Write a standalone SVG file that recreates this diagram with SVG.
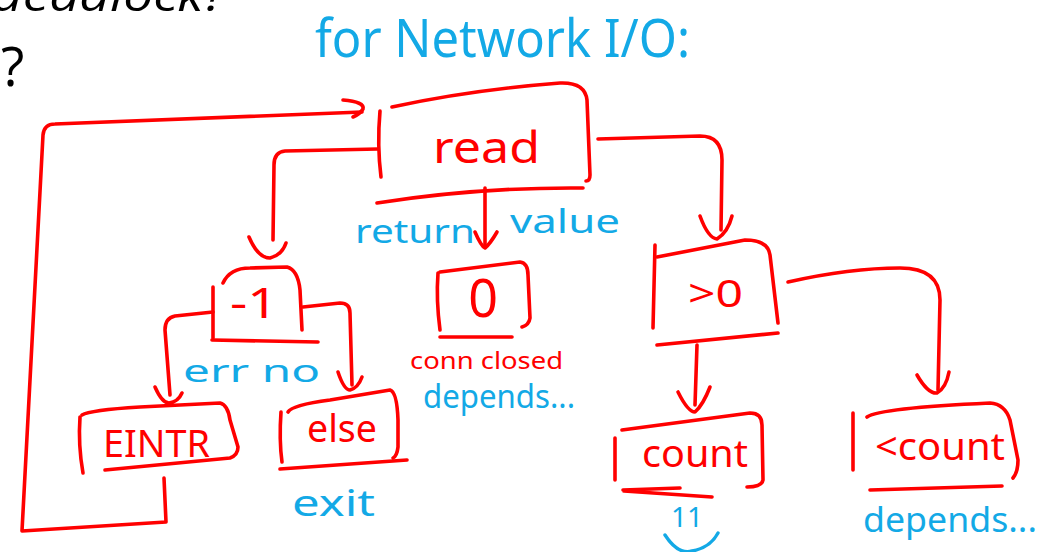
<svg xmlns="http://www.w3.org/2000/svg" width="1043" height="552" viewBox="0 0 1043 552">
<style>
.r{fill:none;stroke:#ff0000;stroke-width:3.6;stroke-linecap:round;stroke-linejoin:round}
.rt{fill:#ff0000;font-family:"Noto Sans","Liberation Sans",sans-serif}
.bt{fill:#13a9e6;font-family:"Noto Sans","Liberation Sans",sans-serif}
.b{fill:none;stroke:#13a9e6;stroke-width:3.4;stroke-linecap:round}
.k{fill:#000;font-family:"Open Sans","Liberation Sans",sans-serif}
</style>
<rect width="1043" height="552" fill="#fff"/>
<text class="k" x="-8" y="11" font-size="44" font-style="italic" textLength="234" lengthAdjust="spacingAndGlyphs">deadlock?</text>
<text class="k" x="1" y="86" font-size="54">?</text>
<text class="bt" x="315" y="57" font-size="52" textLength="375" lengthAdjust="spacingAndGlyphs">for Network I/O:</text>

<g id="connectors">
<path class="r" d="M485,188 L485,247"/>
<path class="r" d="M475,232 Q481,246 485,248 Q490,244 497,232"/>
<path class="r" d="M378,149 L285,151 Q274,152 274,165 L273,240"/>
<path class="r" d="M249,237 Q258,258 270,258 Q282,255 286,243"/>
<path class="r" d="M598,139 L700,136 Q722,136 722,160 L721,230"/>
<path class="r" d="M700,216 Q708,238 717,239 Q728,232 732,216"/>
<path class="r" d="M164,478 L166,522 L22,531 L43,135 Q44,124 55,124 L362,112"/>
<path class="r" d="M343,100 Q365,102 363,109 Q360,114 353,117"/>
<path class="r" d="M213,312 L175,316 Q165,318 165,330 L170,395"/>
<path class="r" d="M155,387 Q162,403 169,403 Q178,402 182,393"/>
<path class="r" d="M303,307 L340,303 Q350,303 350,313 L352,385"/>
<path class="r" d="M338,372 Q344,390 350,390 Q358,388 362,377"/>
<path class="r" d="M697,345 L695,405"/>
<path class="r" d="M678,392 Q688,412 695,412 Q703,405 710,387"/>
<path class="r" d="M788,282 Q850,268 900,268 Q940,268 940,300 L938,390"/>
<path class="r" d="M917,375 Q928,394 937,393 Q946,388 949,372"/>
</g>

<g id="node-read">
<path class="r" d="M380,111 Q377,145 381,177"/>
<path class="r" d="M392,107 Q470,90 560,83 Q585,82 587,100 L590,175 Q590,181 586,181"/>
<path class="r" d="M377,203 Q480,187 583,188"/>
<text class="rt" x="433" y="163" font-size="44" textLength="107" lengthAdjust="spacingAndGlyphs">read</text>
<text class="bt" x="355" y="243" font-size="32" textLength="120" lengthAdjust="spacingAndGlyphs">return</text>
<text class="bt" x="510" y="233" font-size="32" textLength="110" lengthAdjust="spacingAndGlyphs">value</text>
</g>

<g id="node-minus1">
<path class="r" d="M213,287 L213,338"/>
<path class="r" d="M223,283 Q230,268 250,268 L287,267 Q298,270 300,290 L302,330"/>
<path class="r" d="M212,340 L318,342"/>
<text class="rt" x="230" y="318" font-size="42" textLength="48" lengthAdjust="spacingAndGlyphs">-1</text>
<text class="bt" x="183" y="382" font-size="30" textLength="137" lengthAdjust="spacingAndGlyphs">err no</text>
</g>

<g id="node-zero">
<path class="r" d="M438,273 Q436,300 440,330"/>
<path class="r" d="M440,272 L520,262 Q528,263 528,275 L530,318 Q529,325 522,327"/>
<path class="r" d="M440,337 L512,337"/>
<text class="rt" x="483" y="317" font-size="52" text-anchor="middle">0</text>
<text class="rt" x="410" y="369" font-size="24" textLength="153" lengthAdjust="spacingAndGlyphs">conn closed</text>
<text class="bt" x="423" y="408" font-size="32" textLength="152" lengthAdjust="spacingAndGlyphs">depends...</text>
</g>

<g id="node-eintr">
<path class="r" d="M80,417 Q78,445 83,473"/>
<path class="r" d="M82,415 Q90,410 140,407 L220,403 Q228,405 230,420 L238,447 Q238,455 230,458 L105,470"/>
<text class="rt" x="103" y="457" font-size="38" textLength="107" lengthAdjust="spacingAndGlyphs">EINTR</text>
</g>

<g id="node-else">
<path class="r" d="M281,412 Q279,440 282,462"/>
<path class="r" d="M288,412 Q292,405 330,400 L390,390 Q397,392 398,420 L398,447 Q397,456 393,458"/>
<path class="r" d="M280,469 L407,460"/>
<text class="rt" x="307" y="442" font-size="38" textLength="70" lengthAdjust="spacingAndGlyphs">else</text>
<text class="bt" x="292" y="516" font-size="36" textLength="83" lengthAdjust="spacingAndGlyphs">exit</text>
</g>

<g id="node-gt0">
<path class="r" d="M655,245 L653,328"/>
<path class="r" d="M657,257 L745,240 Q768,240 770,255 L778,323"/>
<path class="r" d="M657,345 L778,333"/>
<text class="rt" x="688" y="307" font-size="38" textLength="55" lengthAdjust="spacingAndGlyphs">&gt;0</text>
</g>

<g id="node-count">
<path class="r" d="M615,438 L615,480"/>
<path class="r" d="M622,430 L750,413 Q762,413 762,425 L763,480 Q762,487 747,487"/>
<path class="r" d="M623,490 L680,488 M624,491 L712,497"/>
<text class="rt" x="642" y="467" font-size="38" textLength="106" lengthAdjust="spacingAndGlyphs">count</text>
<text class="bt" x="687" y="527" font-size="28" text-anchor="middle">11</text>
<path class="b" d="M665,535 Q678,555 692,551 Q710,548 718,533"/>
</g>

<g id="node-ltcount">
<path class="r" d="M853,413 L853,470"/>
<path class="r" d="M867,417 Q880,408 990,403 Q1005,404 1010,420 L1018,460 Q1018,472 1013,478"/>
<path class="r" d="M870,490 L1002,486"/>
<text class="rt" x="875" y="460" font-size="38" textLength="130" lengthAdjust="spacingAndGlyphs">&lt;count</text>
<text class="bt" x="863" y="532" font-size="34" textLength="174" lengthAdjust="spacingAndGlyphs">depends...</text>
</g>
</svg>
